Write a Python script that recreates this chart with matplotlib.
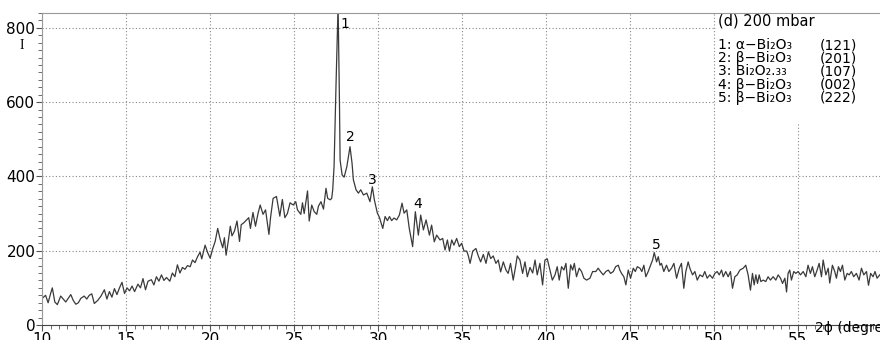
import numpy as np
import matplotlib
matplotlib.use("Agg")
import matplotlib.pyplot as plt
from matplotlib.ticker import MultipleLocator

# XRD pattern, (d) 200 mbar
two_theta = [
    10.0, 10.2, 10.35, 10.5, 10.6, 10.75, 10.9, 11.1, 11.25, 11.4, 11.55, 11.7, 11.85,
    12.0, 12.15, 12.3, 12.5, 12.65, 12.8, 12.95, 13.1, 13.3, 13.5, 13.7, 13.85, 14.0,
    14.15, 14.3, 14.45, 14.6, 14.75, 14.9, 15.05, 15.2, 15.35, 15.5, 15.7, 15.85, 16.0,
    16.15, 16.3, 16.5, 16.65, 16.8, 16.95, 17.1, 17.25, 17.4, 17.6, 17.75, 17.9, 18.05,
    18.2, 18.35, 18.5, 18.65, 18.81, 18.95, 19.1, 19.25, 19.4, 19.5, 19.7, 19.85, 20.0,
    20.15, 20.3, 20.45, 20.6, 20.75, 20.85, 20.95, 21.1, 21.2, 21.3, 21.45, 21.6, 21.75,
    21.85, 22.0, 22.15, 22.3, 22.4, 22.55, 22.7, 22.85, 22.98, 23.15, 23.3, 23.5, 23.6,
    23.75, 23.95, 24.15, 24.3, 24.45, 24.6, 24.76, 24.95, 25.1, 25.2, 25.4, 25.5, 25.6,
    25.8, 25.9, 26.05, 26.2, 26.35, 26.45, 26.6, 26.75, 26.9, 27.0, 27.15, 27.24, 27.3,
    27.38, 27.5, 27.62, 27.7, 27.74, 27.86, 27.98, 28.14, 28.33, 28.45, 28.53, 28.69,
    28.83, 28.97, 29.13, 29.33, 29.52, 29.66, 29.78, 29.96, 30.08, 30.28, 30.42, 30.56,
    30.68, 30.81, 30.95, 31.11, 31.27, 31.43, 31.55, 31.71, 31.86, 32.06, 32.22, 32.4,
    32.54, 32.7, 32.86, 33.06, 33.19, 33.35, 33.49, 33.69, 33.85, 33.99, 34.13, 34.25,
    34.39, 34.52, 34.68, 34.84, 34.98, 35.12, 35.28, 35.38, 35.48, 35.64, 35.83, 35.97,
    36.11, 36.27, 36.43, 36.57, 36.71, 36.86, 37.02, 37.16, 37.3, 37.46, 37.62, 37.75,
    37.89, 38.05, 38.19, 38.29, 38.45, 38.61, 38.75, 38.89, 39.05, 39.21, 39.35, 39.48,
    39.64, 39.8, 39.94, 40.08, 40.24, 40.38, 40.54, 40.67, 40.79, 40.93, 41.07, 41.19,
    41.33, 41.47, 41.59, 41.69, 41.82, 41.98, 42.12, 42.26, 42.42, 42.62, 42.78, 42.97,
    43.11, 43.25, 43.41, 43.57, 43.71, 43.85, 44.01, 44.15, 44.31, 44.4, 44.5, 44.64,
    44.76, 44.9, 45.04, 45.2, 45.32, 45.44, 45.6, 45.71, 45.83, 45.95, 46.09, 46.23,
    46.35, 46.45, 46.59, 46.69, 46.79, 46.88, 47.02, 47.18, 47.32, 47.48, 47.62, 47.78,
    47.94, 48.07, 48.21, 48.33, 48.47, 48.57, 48.73, 48.87, 49.01, 49.17, 49.33, 49.46,
    49.6, 49.76, 49.92, 50.06, 50.2, 50.32, 50.46, 50.56, 50.71, 50.85, 50.99, 51.11,
    51.25, 51.39, 51.55, 51.75, 51.9, 52.04, 52.18, 52.3, 52.4, 52.5, 52.6, 52.7, 52.8,
    52.94, 53.09, 53.23, 53.37, 53.53, 53.69, 53.83, 53.97, 54.09, 54.23, 54.33, 54.42,
    54.52, 54.62, 54.76, 54.88, 55.02, 55.16, 55.32, 55.48, 55.61, 55.75, 55.87, 56.01,
    56.15, 56.27, 56.41, 56.51, 56.67, 56.81, 56.9, 57.06, 57.2, 57.3, 57.42, 57.54,
    57.66, 57.8, 57.94, 58.06, 58.19, 58.33, 58.49, 58.65, 58.79, 58.93, 59.09, 59.21,
    59.34, 59.48, 59.6, 59.72, 59.88, 60.0,
]
intensity = [
    72, 80, 60, 85, 100, 62, 55, 78, 70, 62, 72, 82, 66,
    56, 60, 72, 78, 70, 80, 84, 58, 66, 78, 95, 70, 90,
    75, 98, 82, 100, 115, 85, 100, 92, 105, 90, 110, 100, 125,
    95, 118, 122, 108, 130, 118, 135, 120, 128, 118, 140, 130, 162,
    140, 155, 150, 160, 157, 175, 168, 184, 196, 178, 215, 195, 180,
    205, 225, 260, 230, 208, 235, 188, 232, 266, 240, 253, 280, 225,
    270, 275, 282, 289, 260, 303, 266, 300, 323, 298, 310, 244, 290,
    341, 346, 293, 338, 289, 300, 329, 323, 332, 310, 298, 329, 300,
    361, 280, 323, 305, 298, 320, 332, 312, 368, 341, 337, 341, 364,
    426, 652, 860, 606, 444, 404, 398, 426, 480, 436, 391, 364,
    355, 364, 350, 355, 332, 372, 337, 301, 290, 260, 292, 281,
    292, 281, 288, 283, 296, 328, 301, 310, 260, 211, 305, 242,
    296, 256, 283, 242, 269, 224, 242, 229, 233, 202, 229, 199,
    229, 215, 233, 211, 220, 199, 199, 186, 166, 199, 206, 186,
    170, 190, 166, 197, 179, 186, 166, 175, 143, 170, 148, 139,
    166, 121, 157, 186, 175, 139, 170, 130, 155, 140, 175, 135,
    166, 108, 175, 178, 148, 121, 135, 157, 121, 157, 148, 166,
    99, 162, 148, 166, 130, 153, 144, 126, 121, 126, 144, 144,
    153, 144, 135, 144, 148, 139, 144, 157, 161, 148, 139, 130,
    108, 148, 126, 153, 144, 157, 153, 144, 161, 130, 144, 161,
    175, 195, 170, 184, 161, 166, 144, 161, 144, 153, 166, 126,
    153, 166, 99, 144, 170, 153, 135, 144, 121, 135, 130, 144,
    126, 135, 126, 139, 144, 135, 148, 130, 144, 130, 144, 99,
    130, 135, 148, 153, 161, 135, 94, 139, 108, 135, 112, 135, 117,
    121, 117, 130, 121, 130, 121, 135, 126, 112, 126, 89, 139,
    148, 121, 144, 139, 144, 135, 144, 130, 161, 139, 157, 130,
    148, 166, 130, 175, 135, 153, 113, 161, 144, 126, 157, 144,
    161, 121, 139, 135, 144, 130, 139, 121, 153, 135, 144, 107,
    139, 130, 144, 126, 135, 140,
]

peak_ids = ["1", "2", "3", "4", "5"]
peak_pos = [28.0, 28.35, 29.65, 32.35, 46.55]
peak_lbl_y = [810, 505, 390, 325, 215]

phases = ["1: \u03b1\u2212Bi\u2082O\u2083", "2: \u03b2\u2212Bi\u2082O\u2083", "3: Bi\u2082O\u2082.\u2083\u2083",
          "4: \u03b2\u2212Bi\u2082O\u2083", "5: \u03b2\u2212Bi\u2082O\u2083"]
hkl = ["(121)", "(201)", "(107)", "(002)", "(222)"]

fig = plt.figure(figsize=(8.8, 3.4), dpi=100)
ax = fig.add_axes([0.048, 0.044, 0.954, 0.918])

ax.plot(two_theta, intensity, color="#3a3a3a", lw=0.9)

ax.set_xlim(10, 60)
ax.set_ylim(0, 840)
ax.xaxis.set_major_locator(MultipleLocator(5))
ax.xaxis.set_minor_locator(MultipleLocator(0.5))
ax.yaxis.set_major_locator(MultipleLocator(200))
ax.yaxis.set_minor_locator(MultipleLocator(20))
ax.set_xticks([10, 15, 20, 25, 30, 35, 40, 45, 50, 55])

ax.grid(True, which="major", color="#888888", ls=(0, (1, 2)), lw=0.8)
ax.tick_params(which="both", direction="out", color="#555555", labelsize=11, pad=1)
ax.tick_params(which="major", length=4)
ax.tick_params(which="minor", length=3)
for side in ["top", "left"]:
    ax.spines[side].set_color("#999999")
ax.spines["bottom"].set_color("#444444")
ax.spines["right"].set_visible(False)

for pid, px, py in zip(peak_ids, peak_pos, peak_lbl_y):
    ax.text(px, py, pid, fontsize=10, ha="center", va="center")

# white panel behind the phase key
ax.add_patch(plt.Rectangle((50.1, 545), 10, 300, facecolor="white", edgecolor="none", zorder=2))
ax.text(50.25, 819, "(d) 200 mbar", fontsize=10.5, va="center", zorder=3)
ax.text(50.25, 772, "\n".join(phases), fontsize=10, va="top", linespacing=0.92, zorder=3)
ax.text(56.3, 772, "\n".join(hkl), fontsize=10, va="top", linespacing=0.92, zorder=3)

fig.text(0.025, 0.865, "I", fontsize=10, family="Liberation Serif", ha="center", va="center")
fig.text(0.926, 0.035, "2\u03d5 (degree", fontsize=10, va="center")

fig.savefig("out.png", dpi=100)
